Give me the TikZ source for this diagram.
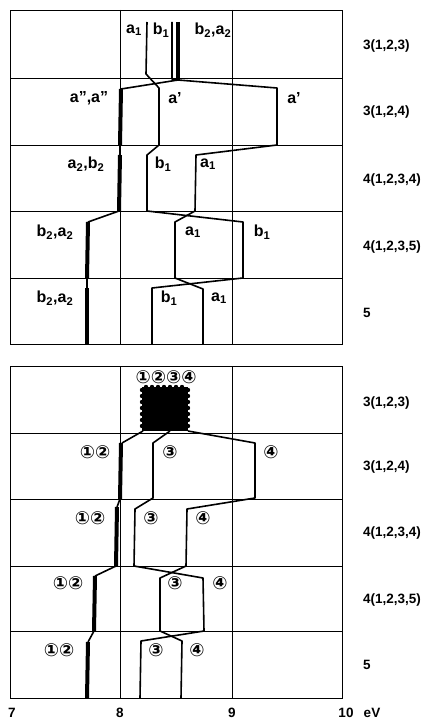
\documentclass[tikz,border=0pt]{standalone}
\usepackage{fontspec}
\setmainfont{Liberation Sans}
\newfontfamily\circfont{DejaVu Sans}
\newcommand\sbs[1]{\textsubscript{#1}}
\begin{document}
\begin{tikzpicture}[x=1pt,y=-1pt,
  gridline/.style={line width=0.9pt,black},
  lvl/.style={line width=1.6pt,black,line join=round},
  thk/.style={line width=4pt,black},
  lab/.style={font=\bfseries\fontsize{16}{16}\selectfont,inner sep=0pt},
  rlab/.style={font=\bfseries\fontsize{13.5}{13.5}\selectfont,anchor=west,inner sep=0pt},
  clab/.style={font=\circfont\bfseries\fontsize{18}{18}\selectfont,inner sep=0pt},
  axlab/.style={font=\bfseries\fontsize{13.5}{13.5}\selectfont,inner sep=0pt}]
\useasboundingbox[fill=white] (0,0) rectangle (426,719);

% ---------- upper panel grid ----------
\draw[gridline] (10,10) rectangle (342,344);
\foreach \y in {78,145,211,278} \draw[gridline] (10,\y) -- (342,\y);
\foreach \x in {120,232} \draw[gridline] (\x,10) -- (\x,344);

% ---------- lower panel grid ----------
\draw[gridline] (10,366) rectangle (342,698);
\foreach \y in {433,499,566,631} \draw[gridline] (10,\y) -- (342,\y);
\foreach \x in {120,232} \draw[gridline] (\x,366) -- (\x,698);

% ---------- upper panel levels ----------
\draw[lvl] (147,22) -- (146,74) -- (159,88) -- (159,145) -- (147,155) -- (147,211)
  -- (243,222) -- (243,278) -- (152,288) -- (152,344);
\draw[lvl] (172,22) -- (172,79) -- (178,80);
\draw[thk] (178,22) -- (178,80);
\draw[lvl] (178,80) -- (121,89);
\draw[thk] (121,89) -- (120,145);
\draw[lvl] (120,145) -- (120,155);
\draw[thk] (120,155) -- (119,211);
\draw[lvl] (119,211) -- (88,222);
\draw[thk] (88,222) -- (87,278);
\draw[lvl] (87,278) -- (87,288);
\draw[thk] (87,288) -- (87,344);
\draw[lvl] (178,80) -- (277,88) -- (277,145) -- (196,155) -- (195,211)
  -- (175,222) -- (175,278) -- (203,289) -- (203,344);

% ---------- lower panel levels ----------
\fill (142,387) rectangle (188,431);
\foreach \y in {390,396,...,426} {\fill (142,\y) circle (2.2); \fill (188,\y) circle (2.2);}
\foreach \x in {146,152,...,184} {\fill (\x,387) circle (2.2);}
\draw[lvl] (143,431) -- (122,443);
\draw[thk] (121,443) -- (120,499);
\draw[lvl] (120,499) -- (117,507);
\draw[thk] (117,507) -- (116,566);
\draw[lvl] (116,566) -- (95,576);
\draw[thk] (95,576) -- (94,631);
\draw[lvl] (94,631) -- (88,642);
\draw[thk] (88,642) -- (87,698);
\draw[lvl] (170,431) -- (153,443) -- (153,498) -- (135,509) -- (134,566)
  -- (203,578) -- (204,631) -- (141,641) -- (140,698);
\draw[lvl] (188,431) -- (255,443) -- (255,498) -- (187,509) -- (186,566)
  -- (160,578) -- (160,631) -- (182,641) -- (181,698);

% ---------- upper panel labels ----------
\node[lab] (u1a) at (134,30) {a\sbs{1}};
\node[lab] (u1b) at (161,30) {b\sbs{1}};
\node[lab] (u1c) at (213,30) {b\sbs{2},a\sbs{2}};
\node[lab] (u2a) at (89,98) {a'',a''};
\node[lab] (u2b) at (175,98) {a'};
\node[lab] (u2c) at (294,98) {a'};
\node[lab] (u3a) at (86,164) {a\sbs{2},b\sbs{2}};
\node[lab] (u3b) at (163,164) {b\sbs{1}};
\node[lab] (u3c) at (208,164) {a\sbs{1}};
\node[lab] (u4a) at (55,232) {b\sbs{2},a\sbs{2}};
\node[lab] (u4b) at (193,232) {a\sbs{1}};
\node[lab] (u4c) at (262,232) {b\sbs{1}};
\node[lab] (u5a) at (55,298) {b\sbs{2},a\sbs{2}};
\node[lab] (u5b) at (169,298) {b\sbs{1}};
\node[lab] (u5c) at (219,298) {a\sbs{1}};

% ---------- lower panel labels ----------
\node[clab] (l1) at (166,377) {①②③④};
\node[clab] (l2a) at (95,452) {①②};
\node[clab] (l2b) at (170,452) {③};
\node[clab] (l2c) at (271,452) {④};
\node[clab] (l3a) at (90,518) {①②};
\node[clab] (l3b) at (151,518) {③};
\node[clab] (l3c) at (203,518) {④};
\node[clab] (l4a) at (68,583) {①②};
\node[clab] (l4b) at (175,583) {③};
\node[clab] (l4c) at (220,583) {④};
\node[clab] (l5a) at (59,650) {①②};
\node[clab] (l5b) at (156,650) {③};
\node[clab] (l5c) at (197,650) {④};

% ---------- row labels ----------
\node[rlab] (ru1) at (363,46) {3(1,2,3)};
\node[rlab] (ru2) at (363,112) {3(1,2,4)};
\node[rlab] (ru3) at (363,180) {4(1,2,3,4)};
\node[rlab] (ru4) at (363,247) {4(1,2,3,5)};
\node[rlab] (ru5) at (363,313) {5};
\node[rlab] (rl1) at (363,403) {3(1,2,3)};
\node[rlab] (rl2) at (363,467) {3(1,2,4)};
\node[rlab] (rl3) at (363,533) {4(1,2,3,4)};
\node[rlab] (rl4) at (363,600) {4(1,2,3,5)};
\node[rlab] (rl5) at (363,665) {5};

% ---------- axis ----------
\node[axlab] (ax7) at (12,713) {7};
\node[axlab] (ax8) at (120,713) {8};
\node[axlab] (ax9) at (232,713) {9};
\node[axlab] (ax10) at (346,713) {10};
\node[axlab] (axev) at (372,713) {eV};
\end{tikzpicture}
\end{document}
